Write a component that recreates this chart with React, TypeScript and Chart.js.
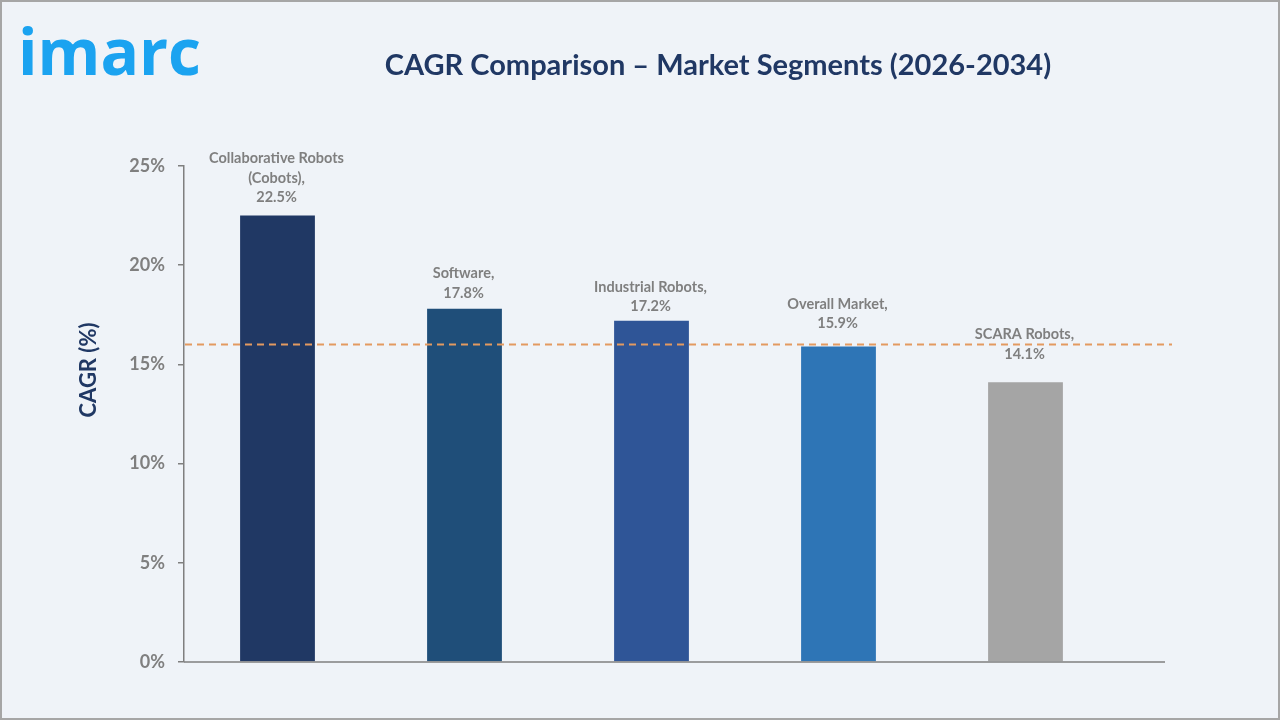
import React, { useEffect, useRef } from "react";
import { Chart, registerables } from "chart.js";

Chart.register(...registerables);

// Segments compared, their CAGR over 2026-2034 and the overall-market reference line
const categories = [
  "Collaborative Robots (Cobots)",
  "Software",
  "Industrial Robots",
  "Overall Market",
  "SCARA Robots",
];
const labelLines = [
  ["Collaborative Robots", "(Cobots),"],
  ["Software,"],
  ["Industrial Robots,"],
  ["Overall Market,"],
  ["SCARA Robots,"],
];
const cagrValues = [22.5, 17.8, 17.2, 15.9, 14.1];
const referenceCagr = 16.0;
const yTicks = [0, 5, 10, 15, 20, 25];

const chartTitle = "CAGR Comparison – Market Segments (2026-2034)";
const yAxisTitle = "CAGR (%)";
const brand = "imarc";

// Styling
const barColors = ["#203864", "#1f4e79", "#2f5597", "#2e75b6", "#a5a5a5"];
const labelLift = [0, -2, -4, 5, 10];
const FONT = "Lato, 'Open Sans', sans-serif";
const GREY = "#7f7f7f";
const NAVY = "#203864";
const BG = "#eff3f8";

const decorations = {
  id: "decorations",
  beforeDraw(chart: any) {
    const { ctx, width, height } = chart;
    ctx.save();
    ctx.fillStyle = BG;
    ctx.fillRect(0, 0, width, height);
    ctx.strokeStyle = "#a6a6a6";
    ctx.lineWidth = 2;
    ctx.strokeRect(1, 1, width - 2, height - 2);

    // brand mark
    ctx.fillStyle = "#1ba3f0";
    ctx.font = `bold 64px 'Open Sans', ${FONT}`;
    ctx.textAlign = "left";
    ctx.textBaseline = "alphabetic";
    ctx.fillText(brand, 18, 75);

    // title
    ctx.fillStyle = NAVY;
    ctx.font = `bold 29px ${FONT}`;
    ctx.textAlign = "center";
    ctx.fillText(chartTitle, 718, 75);

    // y-axis title
    ctx.translate(96, 370);
    ctx.rotate(-Math.PI / 2);
    ctx.font = `bold 22px ${FONT}`;
    ctx.textAlign = "center";
    ctx.fillText(yAxisTitle, 0, 0);
    ctx.restore();
  },
  afterDatasetsDraw(chart: any) {
    const { ctx, chartArea } = chart;
    const y = chart.scales.y;
    ctx.save();

    // x axis baseline
    ctx.strokeStyle = GREY;
    ctx.lineWidth = 1.5;
    ctx.beginPath();
    ctx.moveTo(chartArea.left, chartArea.bottom);
    ctx.lineTo(1165, chartArea.bottom);
    ctx.stroke();

    // reference line
    const ry = y.getPixelForValue(referenceCagr);
    ctx.strokeStyle = "#e39a60";
    ctx.lineWidth = 2;
    ctx.setLineDash([7, 5]);
    ctx.beginPath();
    ctx.moveTo(chartArea.left + 1, ry);
    ctx.lineTo(1172, ry);
    ctx.stroke();
    ctx.setLineDash([]);

    // value labels
    const meta = chart.getDatasetMeta(0);
    ctx.fillStyle = GREY;
    ctx.font = `bold 14.5px ${FONT}`;
    ctx.textAlign = "center";
    ctx.textBaseline = "middle";
    meta.data.forEach((bar: any, i: number) => {
      const lines = [...labelLines[i], `${cagrValues[i].toFixed(1)}%`];
      const lineH = 19.5;
      const lastY = bar.y - 18 - labelLift[i];
      lines.forEach((t, j) => {
        ctx.fillText(t, bar.x - 1, lastY - (lines.length - 1 - j) * lineH);
      });
    });
    ctx.restore();
  },
};

export default function App() {
  const ref = useRef<HTMLCanvasElement>(null);

  useEffect(() => {
    if (!ref.current) return;
    const chart = new Chart(ref.current, {
      type: "bar",
      data: {
        labels: categories,
        datasets: [
          {
            data: cagrValues,
            backgroundColor: barColors,
            borderWidth: 0,
            categoryPercentage: 1,
            barPercentage: 0.4,
          },
        ],
      },
      options: {
        responsive: false,
        animation: false,
        layout: { padding: { left: 0, right: 161, top: 166, bottom: 58 } },
        plugins: {
          legend: { display: false },
          tooltip: { enabled: false },
          title: { display: false },
        },
        scales: {
          x: {
            ticks: { display: false },
            grid: { display: false },
            border: { display: false },
            afterFit: (s: any) => {
              s.height = 0;
            },
          },
          y: {
            min: 0,
            max: 25,
            afterBuildTicks: (s: any) => {
              s.ticks = yTicks.map((v) => ({ value: v }));
            },
            ticks: {
              color: GREY,
              font: { family: FONT, size: 18, weight: "bold" },
              padding: 13,
              callback: (v: any) => `${v}%`,
            },
            grid: {
              drawOnChartArea: false,
              drawTicks: true,
              tickLength: 6,
              color: GREY,
              lineWidth: 1.5,
            },
            border: { display: true, color: GREY, width: 1.5 },
            afterFit: (s: any) => {
              s.width = 184;
            },
          },
        },
      },
      plugins: [decorations],
    });
    return () => chart.destroy();
  }, []);

  return (
    <div style={{ position: "fixed", left: 0, top: 0, width: 1280, height: 720 }}>
      <canvas ref={ref} width={1280} height={720} style={{ width: 1280, height: 720 }} />
    </div>
  );
}
